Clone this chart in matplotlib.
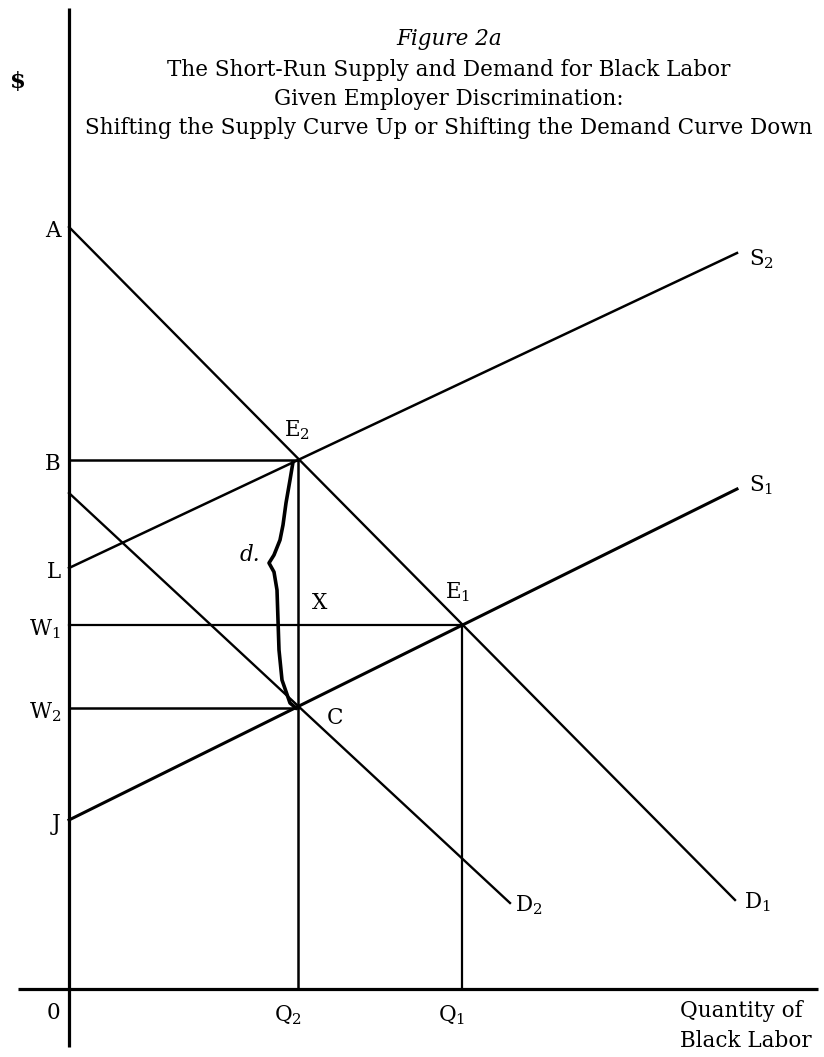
import matplotlib
matplotlib.use("Agg")
from matplotlib import pyplot as plt

plt.rcParams["font.family"] = "DejaVu Serif"
plt.rcParams["mathtext.fontset"] = "dejavuserif"

# Price levels marked on the $ axis
price_labels = ["A", "B", "L", "W$_1$", "W$_2$", "J"]
price_values = [762, 529, 421, 364, 281, 169]

# Quantities marked on the horizontal axis
qty_labels = ["Q$_2$", "Q$_1$"]
qty_values = [229, 393]

# Curves (start and end points)
d1_x, d1_y = [0, 666], [762, 89]
d2_x, d2_y = [0, 441], [496, 86]
s1_x, s1_y = [0, 668], [169, 500]
s2_x, s2_y = [0, 668], [421, 736]

# Equilibrium points
e2 = (229, 529)
e1 = (393, 364)
c_pt = (229, 281)

# Hand-drawn "d." bracket between E2 and C
d_x = [224, 221, 217, 214, 211, 205, 200, 205, 208, 209, 210, 213, 221, 227]
d_y = [527, 509, 486, 464, 449, 434, 426, 417, 399, 369, 339, 309, 286, 281]

title_lines = [
    "The Short-Run Supply and Demand for Black Labor",
    "Given Employer Discrimination:",
    "Shifting the Supply Curve Up or Shifting the Demand Curve Down",
]

fig = plt.figure(figsize=(8.24, 10.57), dpi=100)
ax = fig.add_axes([0, 0, 1, 1])
ax.set_xlim(-69, 755)
ax.set_ylim(-68, 989)
ax.axis("off")

fs = 15.5

# --- axes ---
ax.plot([0, 0], [-58, 981], color="black", lw=2.3, solid_capstyle="butt")
ax.plot([-51, 749], [0, 0], color="black", lw=2.3, solid_capstyle="butt")

# --- supply and demand curves ---
ax.plot(d1_x, d1_y, color="black", lw=1.7)
ax.plot(d2_x, d2_y, color="black", lw=1.7)
ax.plot(s1_x, s1_y, color="black", lw=2.2)
ax.plot(s2_x, s2_y, color="black", lw=1.8)

# --- guide lines ---
ax.plot([0, e2[0]], [e2[1], e2[1]], color="black", lw=1.8)
ax.plot([0, e1[0]], [e1[1], e1[1]], color="black", lw=1.6)
ax.plot([0, c_pt[0]], [c_pt[1], c_pt[1]], color="black", lw=1.8)
ax.plot([e2[0], e2[0]], [0, e2[1]], color="black", lw=1.8)
ax.plot([e1[0], e1[0]], [0, e1[1]], color="black", lw=1.6)

# --- d. bracket ---
ax.plot(d_x, d_y, color="black", lw=2.6, solid_joinstyle="round")

# --- axis labels ---
for lab, v in zip(price_labels, price_values):
    ax.text(-8, v - 4, lab, ha="right", va="center", fontsize=fs)
for lab, v in zip(qty_labels, qty_values):
    ax.text(v - 10, -26, lab, ha="center", va="center", fontsize=fs)
ax.text(-16, -24, "0", ha="center", va="center", fontsize=fs)
ax.text(-51, 907, "$", ha="center", va="center", fontsize=fs + 1, fontweight="bold")
ax.text(611, -22, "Quantity of", ha="left", va="center", fontsize=fs)
ax.text(611, -52, "Black Labor", ha="left", va="center", fontsize=fs)

# --- curve labels ---
ax.text(446, d2_y[1] - 2, "D$_2$", ha="left", va="center", fontsize=fs)
ax.text(675, d1_y[1] - 2, "D$_1$", ha="left", va="center", fontsize=fs)
ax.text(680, s1_y[1] + 4, "S$_1$", ha="left", va="center", fontsize=fs)
ax.text(680, s2_y[1] - 6, "S$_2$", ha="left", va="center", fontsize=fs)
ax.text(e2[0] - 1, e2[1] + 30, "E$_2$", ha="center", va="center", fontsize=fs)
ax.text(e1[0] - 4, e1[1] + 33, "E$_1$", ha="center", va="center", fontsize=fs)
ax.text(c_pt[0] + 37, c_pt[1] - 10, "C", ha="center", va="center", fontsize=fs)
ax.text(251, 386, "X", ha="center", va="center", fontsize=fs)
ax.text(181, 434, "d.", ha="center", va="center", fontsize=fs, style="italic")

# --- title ---
ax.text(380, 950, "Figure 2a", ha="center", va="center", fontsize=fs, style="italic")
for i, line in enumerate(title_lines):
    ax.text(380, 919 - 29 * i, line, ha="center", va="center", fontsize=fs)

fig.savefig("out.png", dpi=100)
